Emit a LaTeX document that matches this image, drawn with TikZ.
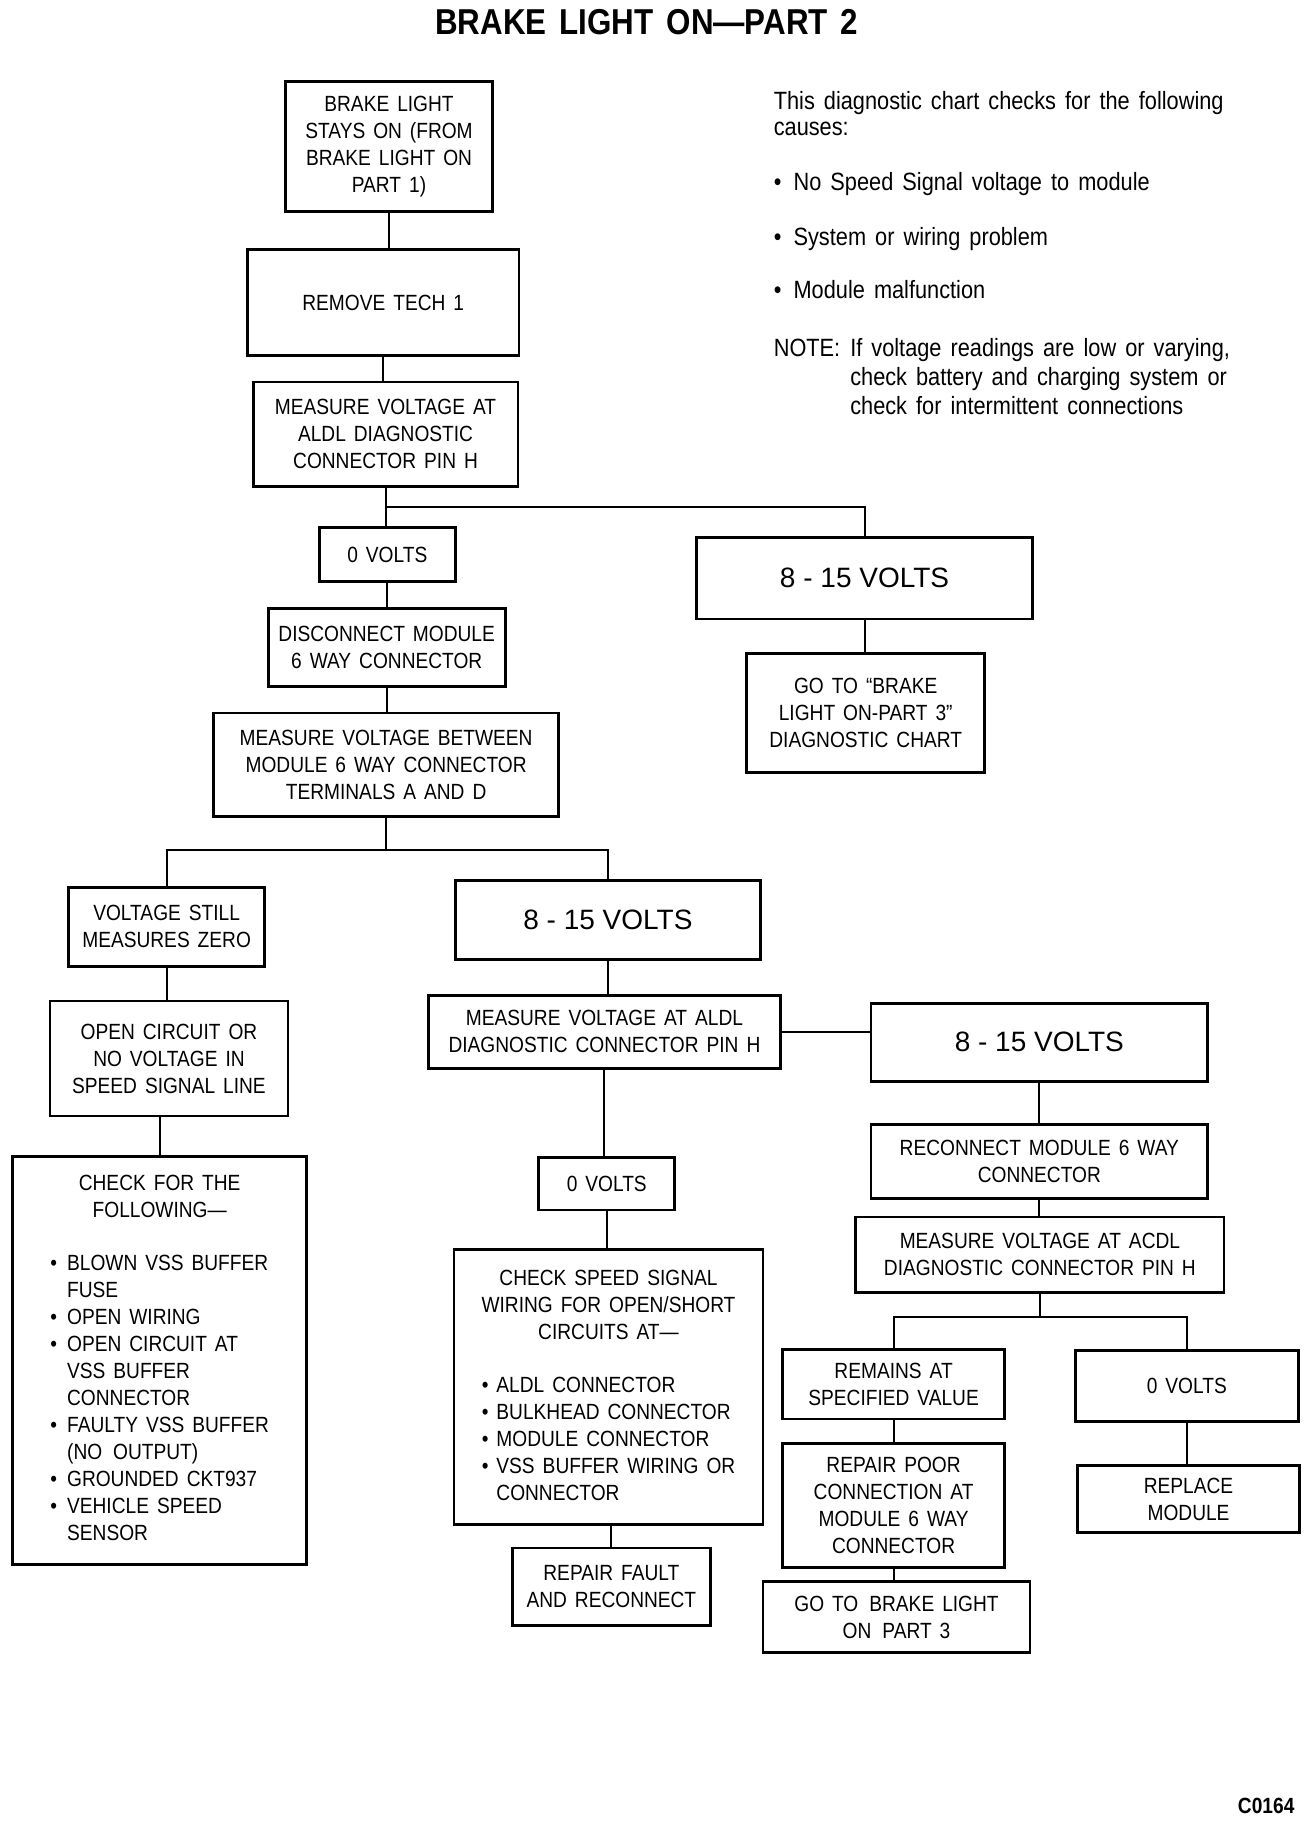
\documentclass[tikz,border=0pt]{standalone}
\usepackage{fontspec}
\setmainfont{Liberation Sans}
\newfontfamily\narrowfont{Liberation Sans}[FakeStretch=0.87,WordSpace=1.5]
\usetikzlibrary{calc}

\newdimen\pxu \pxu=0.5805pt

\begin{document}
\begin{tikzpicture}[x=0.5805pt, y=-0.5805pt,
  box/.style={draw, line width=1.4pt, align=center, inner sep=1pt,
    font=\narrowfont\fontsize{11pt}{13.5pt}\selectfont},
  volts/.style={box, font=\fontsize{14pt}{16pt}\selectfont},
  boxsize/.style 2 args={minimum width=#1*\pxu, minimum height=#2*\pxu},
  link/.style={line width=1pt},
  note/.style={anchor=base west, inner sep=0pt, font=\narrowfont\fontsize{12.5pt}{13.4pt}\selectfont}]
	\useasboundingbox (0,0) rectangle (1130,1569);
	
	\node[anchor=base, inner sep=0pt, font=\narrowfont\bfseries\fontsize{18pt}{22pt}\selectfont] (title) at (557,30) {BRAKE LIGHT ON—PART 2};
	
	% left column
	\node[box, boxsize={178}{112}] (start) at (335,126) {BRAKE LIGHT\\STAYS ON (FROM\\BRAKE LIGHT ON\\PART 1)};
	\node[box, boxsize={234}{91}] (remove) at (330,260.5) {REMOVE TECH 1};
	\node[box, boxsize={228}{90}] (measA) at (332,374) {MEASURE VOLTAGE AT\\ALDL DIAGNOSTIC\\CONNECTOR PIN H};
	\node[box, boxsize={117}{47}] (zeroA) at (333.5,477.5) {0 VOLTS};
	\node[volts, boxsize={289}{70}] (voltsA) at (744.5,498) {8 - 15 VOLTS};
	\node[box, boxsize={205}{102}] (partThree) at (745.5,614) {GO TO “BRAKE\\LIGHT ON-PART 3”\\DIAGNOSTIC CHART};
	\node[box, boxsize={204}{67}] (disconnect) at (333,557.5) {DISCONNECT MODULE\\6 WAY CONNECTOR};
	\node[box, boxsize={297}{89}] (measB) at (332.5,658.5) {MEASURE VOLTAGE BETWEEN\\MODULE 6 WAY CONNECTOR\\TERMINALS A AND D};
	\node[box, boxsize={169}{68}] (stillZero) at (143.5,798) {VOLTAGE STILL\\MEASURES ZERO};
	\node[volts, boxsize={263}{68}] (voltsB) at (523.5,792) {8 - 15 VOLTS};
	\node[box, boxsize={205}{99}] (openCkt) at (145.5,911.5) {OPEN CIRCUIT OR\\NO VOLTAGE IN\\SPEED SIGNAL LINE};
	\node[box, boxsize={253}{351}] (checkList) at (137.5,1171.5)
    {\begin{tabular}[b]{@{}c@{}}CHECK FOR THE\\FOLLOWING—\end{tabular}\\[13pt]
    \begin{tabular}[t]{@{}l@{\hspace{5pt}}l@{}}
    \textbullet & BLOWN VSS BUFFER\\ & FUSE\\
    \textbullet & OPEN WIRING\\
    \textbullet & OPEN CIRCUIT AT\\ & VSS BUFFER\\ & CONNECTOR\\
    \textbullet & FAULTY VSS BUFFER\\ & (NO\enspace OUTPUT)\\
    \textbullet & GROUNDED CKT937\\
    \textbullet & VEHICLE SPEED\\ & SENSOR
    \end{tabular}};
	
	% middle column
	\node[box, boxsize={303}{63}] (measC) at (520.5,888.5) {MEASURE VOLTAGE AT ALDL\\DIAGNOSTIC CONNECTOR PIN H};
	\node[box, boxsize={117}{45}] (zeroB) at (522.5,1019.5) {0 VOLTS};
	\node[box, boxsize={266}{237}] (checkWiring) at (524,1194.5)
    {\begin{tabular}[b]{@{}c@{}}CHECK SPEED SIGNAL\\WIRING FOR OPEN/SHORT\\CIRCUITS AT—\end{tabular}\\[13pt]
    \begin{tabular}[t]{@{}l@{\hspace{4pt}}l@{}}
    \textbullet & ALDL CONNECTOR\\
    \textbullet & BULKHEAD CONNECTOR\\
    \textbullet & MODULE CONNECTOR\\
    \textbullet & VSS BUFFER WIRING OR\\ & CONNECTOR
    \end{tabular}};
	\node[box, boxsize={171}{67}] (repairFault) at (526.5,1366.5) {REPAIR FAULT\\AND RECONNECT};
	
	% right column
	\node[volts, boxsize={290}{67}] (voltsC) at (895,897.5) {8 - 15 VOLTS};
	\node[box, boxsize={290}{64}] (reconnect) at (895,1000) {RECONNECT MODULE 6 WAY\\CONNECTOR};
	\node[box, boxsize={317}{65}] (measD) at (895.5,1080.5) {MEASURE VOLTAGE AT ACDL\\DIAGNOSTIC CONNECTOR PIN H};
	\node[box, boxsize={191}{60}] (remains) at (769.5,1192) {REMAINS AT\\SPECIFIED VALUE};
	\node[box, boxsize={192}{61}] (zeroC) at (1022,1193.5) {0 VOLTS};
	\node[box, boxsize={191}{58}] (replace) at (1023.5,1291) {REPLACE\\MODULE};
	\node[box, boxsize={191}{107}] (repairPoor) at (769.5,1296.5) {REPAIR POOR\\CONNECTION AT\\MODULE 6 WAY\\CONNECTOR};
	\node[box, boxsize={230}{61}] (partThreeB) at (772,1392.5) {GO TO\enspace BRAKE LIGHT\\ON\enspace PART 3};
	
	% notes
	\node[note] (intro) at (666,94) {\begin{tabular}[t]{@{}l@{}}This diagnostic chart checks for the following\\causes:\end{tabular}};
	\node[note] (causeA) at (666,164) {\makebox[9.9pt][l]{\textbullet}No Speed Signal voltage to module};
	\node[note] (causeB) at (666,211) {\makebox[9.9pt][l]{\textbullet}System or wiring problem};
	\node[note] (causeC) at (666,257) {\makebox[9.9pt][l]{\textbullet}Module malfunction};
	\node[note, font=\narrowfont\fontsize{12.5pt}{14.5pt}\selectfont] (note) at (666,307)
    {\begin{tabular}[t]{@{}l@{\hspace{5pt}}l@{}}NOTE: & If voltage readings are low or varying,\\
    & check battery and charging system or\\ & check for intermittent connections\end{tabular}};
	\node[anchor=base east, inner sep=0pt, font=\narrowfont\bfseries\fontsize{11pt}{13pt}\selectfont] (code) at (1115,1562) {C0164};
	
	% connectors
	\draw[link] (start.south) -- (start.south |- remove.north);
	\draw[link] (remove.south) -- (remove.south |- measA.north);
	\draw[link] (measA.south) -- (measA.south |- zeroA.north);
	\coordinate (splitA) at ($(measA.south)!0.5!(zeroA.north)$);
	\draw[link] (splitA) -| (voltsA.north);
	\draw[link] (voltsA.south) -- (voltsA.south |- partThree.north);
	\draw[link] (zeroA.south) -- (zeroA.south |- disconnect.north);
	\draw[link] (disconnect.south) -- (disconnect.south |- measB.north);
	\coordinate (splitB) at ($(measB.south)+(0,28)$);
	\draw[link] (measB.south) -- (splitB);
	\draw[link] (stillZero.north) -- (stillZero.north |- splitB) -- (voltsB.north |- splitB) -- (voltsB.north);
	\draw[link] (stillZero.south) -- (stillZero.south |- openCkt.north);
	\draw[link] (checkList.north |- openCkt.south) -- (checkList.north);
	\draw[link] (voltsB.south) -- (voltsB.south |- measC.north);
	\draw[link] (measC.south) -- (measC.south |- zeroB.north);
	\draw[link] (zeroB.south) -- (zeroB.south |- checkWiring.north);
	\draw[link] (repairFault.north |- checkWiring.south) -- (repairFault.north);
	\draw[link] (measC.east) -- (measC.east -| voltsC.west);
	\draw[link] (voltsC.south) -- (voltsC.south |- reconnect.north);
	\draw[link] (reconnect.south) -- (reconnect.south |- measD.north);
	\coordinate (splitC) at ($(measD.south)+(0,20)$);
	\draw[link] (measD.south) -- (splitC);
	\draw[link] (remains.north) -- (remains.north |- splitC) -- (zeroC.north |- splitC) -- (zeroC.north);
	\draw[link] (remains.south) -- (remains.south |- repairPoor.north);
	\draw[link] (repairPoor.south) -- (repairPoor.south |- partThreeB.north);
	\draw[link] (zeroC.south) -- (zeroC.south |- replace.north);
	
	\end{tikzpicture}
\end{document}
